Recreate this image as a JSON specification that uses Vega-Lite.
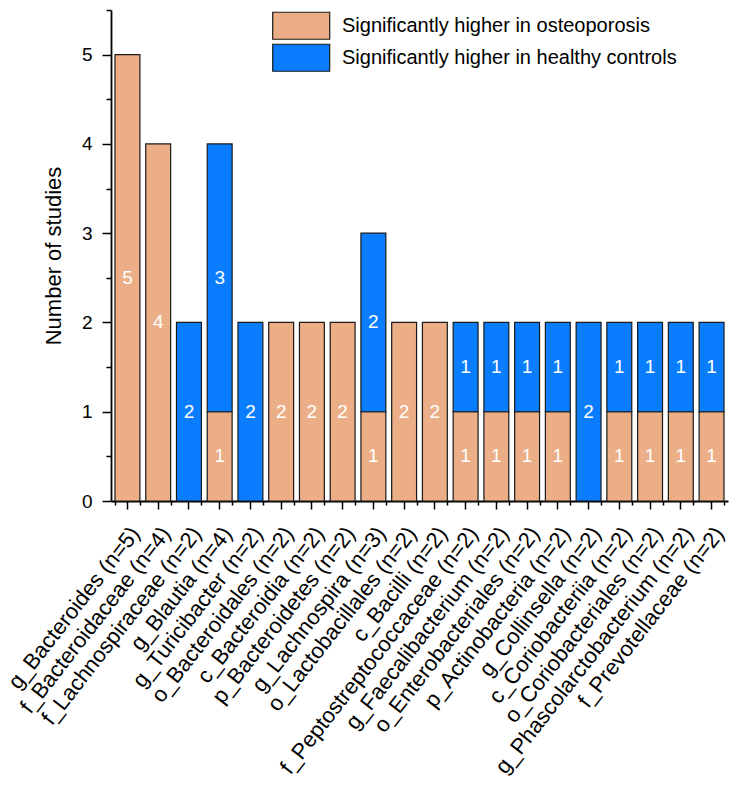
{
  "$schema": "https://vega.github.io/schema/vega-lite/v6.json",
  "width": 617,
  "height": 491,
  "autosize": "none",
  "padding": {"left": 111, "top": 10, "right": 9, "bottom": 296},
  "config": {
    "font": "Liberation Sans",
    "view": {"stroke": null},
    "axis": {"grid": false}
  },
  "data": {
    "values": [
      {"taxon": "g_Bacteroides (n=5)", "group": "Significantly higher in osteoporosis", "count": 5},
      {"taxon": "f_Bacteroidaceae (n=4)", "group": "Significantly higher in osteoporosis", "count": 4},
      {"taxon": "f_Lachnospiraceae (n=2)", "group": "Significantly higher in healthy controls", "count": 2},
      {"taxon": "g_Blautia (n=4)", "group": "Significantly higher in osteoporosis", "count": 1},
      {"taxon": "g_Blautia (n=4)", "group": "Significantly higher in healthy controls", "count": 3},
      {"taxon": "g_Turicibacter (n=2)", "group": "Significantly higher in healthy controls", "count": 2},
      {"taxon": "o_Bacteroidales (n=2)", "group": "Significantly higher in osteoporosis", "count": 2},
      {"taxon": "c_Bacteroidia (n=2)", "group": "Significantly higher in osteoporosis", "count": 2},
      {"taxon": "p_Bacteroidetes (n=2)", "group": "Significantly higher in osteoporosis", "count": 2},
      {"taxon": "g_Lachnospira (n=3)", "group": "Significantly higher in osteoporosis", "count": 1},
      {"taxon": "g_Lachnospira (n=3)", "group": "Significantly higher in healthy controls", "count": 2},
      {"taxon": "o_Lactobacillales (n=2)", "group": "Significantly higher in osteoporosis", "count": 2},
      {"taxon": "c_Bacilli (n=2)", "group": "Significantly higher in osteoporosis", "count": 2},
      {"taxon": "f_Peptostreptococcaceae (n=2)", "group": "Significantly higher in osteoporosis", "count": 1},
      {"taxon": "f_Peptostreptococcaceae (n=2)", "group": "Significantly higher in healthy controls", "count": 1},
      {"taxon": "g_Faecalibacterium (n=2)", "group": "Significantly higher in osteoporosis", "count": 1},
      {"taxon": "g_Faecalibacterium (n=2)", "group": "Significantly higher in healthy controls", "count": 1},
      {"taxon": "o_Enterobacteriales (n=2)", "group": "Significantly higher in osteoporosis", "count": 1},
      {"taxon": "o_Enterobacteriales (n=2)", "group": "Significantly higher in healthy controls", "count": 1},
      {"taxon": "p_Actinobacteria (n=2)", "group": "Significantly higher in osteoporosis", "count": 1},
      {"taxon": "p_Actinobacteria (n=2)", "group": "Significantly higher in healthy controls", "count": 1},
      {"taxon": "g_Collinsella (n=2)", "group": "Significantly higher in healthy controls", "count": 2},
      {"taxon": "c_Coriobacteriia (n=2)", "group": "Significantly higher in osteoporosis", "count": 1},
      {"taxon": "c_Coriobacteriia (n=2)", "group": "Significantly higher in healthy controls", "count": 1},
      {"taxon": "o_Coriobacteriales (n=2)", "group": "Significantly higher in osteoporosis", "count": 1},
      {"taxon": "o_Coriobacteriales (n=2)", "group": "Significantly higher in healthy controls", "count": 1},
      {"taxon": "g_Phascolarctobacterium (n=2)", "group": "Significantly higher in osteoporosis", "count": 1},
      {"taxon": "g_Phascolarctobacterium (n=2)", "group": "Significantly higher in healthy controls", "count": 1},
      {"taxon": "f_Prevotellaceae (n=2)", "group": "Significantly higher in osteoporosis", "count": 1},
      {"taxon": "f_Prevotellaceae (n=2)", "group": "Significantly higher in healthy controls", "count": 1}
    ]
  },
  "layer": [
    {
      "mark": {"type": "bar", "stroke": "#1a1a1a", "strokeWidth": 1.2},
      "encoding": {
        "x": {
          "field": "taxon", "type": "nominal", "sort": null,
          "scale": {"paddingInner": 0.19, "paddingOuter": 0.13},
          "axis": {
            "title": null, "labelAngle": -52, "labelAlign": "right", "labelBaseline": "top",
            "labelFontSize": 22, "labelColor": "black", "labelPadding": 14, "labelLimit": 500,
            "tickSize": 8, "tickColor": "black", "tickWidth": 1.5,
            "domainColor": "black", "domainWidth": 1.8
          }
        },
        "y": {
          "field": "count", "type": "quantitative", "stack": "zero",
          "scale": {"domain": [0, 5.5], "nice": false},
          "axis": {
            "title": "Number of studies", "titleFontSize": 22, "titleFontWeight": "normal", "titleColor": "black", "titlePadding": 16,
            "values": [0, 0.5, 1, 1.5, 2, 2.5, 3, 3.5, 4, 4.5, 5, 5.5],
            "labelExpr": "datum.value % 1 === 0 ? '' + datum.value : ''",
            "labelFontSize": 19, "labelColor": "black", "labelPadding": 10,
            "tickColor": "black", "tickWidth": 1.5,
            "tickSize": {"condition": {"test": "datum.value % 1 !== 0", "value": 5}, "value": 9},
            "domainColor": "black", "domainWidth": 1.8
          }
        },
        "color": {
          "field": "group", "type": "nominal",
          "scale": {
            "domain": ["Significantly higher in osteoporosis", "Significantly higher in healthy controls"],
            "range": ["#EBAE86", "#0A7DFF"]
          },
          "legend": {
            "title": null, "orient": "none", "legendX": 160, "legendY": 1, "rowPadding": 2, "clipHeight": 29.5,
            "symbolType": "M-0.93,-1.35H4.77V1.35H-0.93Z", "symbolSize": 400,
            "symbolStrokeColor": "#1a1a1a", "symbolStrokeWidth": 1.2, "symbolOpacity": 1,
            "labelFontSize": 20, "labelColor": "black", "labelOffset": 49, "labelLimit": 500
          }
        },
        "order": {"field": "group", "sort": "descending"}
      }
    },
    {
      "transform": [
        {"stack": "count", "groupby": ["taxon"], "sort": [{"field": "group", "order": "descending"}], "as": ["v0", "v1"]},
        {"fold": ["v0", "v1"], "as": ["edge", "pos"]}
      ],
      "mark": {"type": "text", "color": "white", "fontSize": 19, "baseline": "middle", "align": "center"},
      "encoding": {
        "x": {
          "field": "taxon", "type": "nominal", "sort": null,
          "axis": {
            "title": null, "labels": false, "domain": false, "tickBand": "extent",
            "tickSize": 4, "tickColor": "black", "tickWidth": 1.5, "orient": "bottom"
          }
        },
        "y": {"aggregate": "mean", "field": "pos", "type": "quantitative", "title": "Number of studies"},
        "text": {"field": "count", "type": "quantitative"},
        "detail": {"field": "group"}
      }
    }
  ],
  "resolve": {"axis": {"x": "independent"}}
}
